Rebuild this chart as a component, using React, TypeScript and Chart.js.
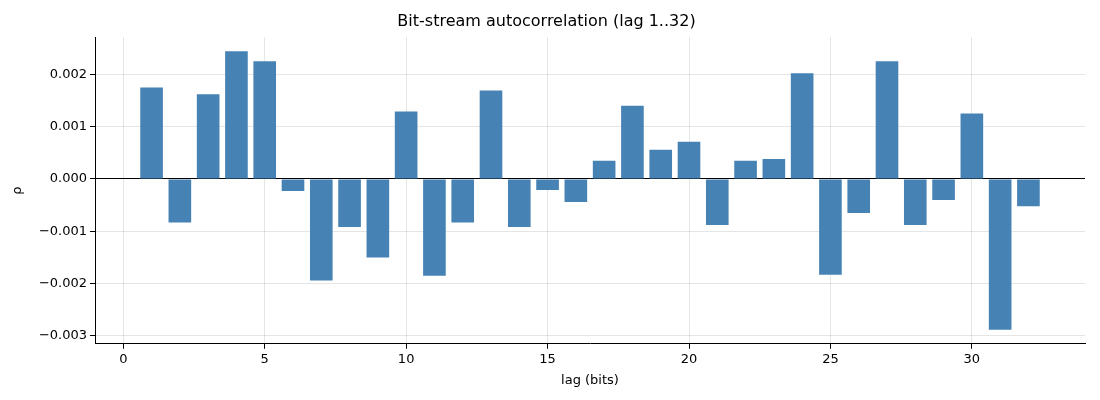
import React, { useEffect, useRef } from "react";
import { Chart, registerables } from "chart.js";
Chart.register(...registerables);

const lags = Array.from({ length: 32 }, (_, i) => i + 1);
const rho = [
  0.00175, -0.00083, 0.00162, 0.00244, 0.00225, -0.00023, -0.00194, -0.00092,
  -0.0015, 0.00129, -0.00185, -0.00083, 0.00169, -0.00092, -0.00021, -0.00044,
  0.00035, 0.0014, 0.00056, 0.00071, -0.00088, 0.00035, 0.00038, 0.00202,
  -0.00183, -0.00065, 0.00225, -0.00088, -0.0004, 0.00125, -0.00288, -0.00052,
];
const xTicks = [0, 5, 10, 15, 20, 25, 30];
const yTicks = [-0.003, -0.002, -0.001, 0, 0.001, 0.002];

export default function App() {
  const ref = useRef<HTMLCanvasElement>(null);
  useEffect(() => {
    document.body.style.margin = "0";
    const font = { family: "DejaVu Sans", size: 13 };
    const chart = new Chart(ref.current!, {
      type: "bar",
      data: {
        datasets: [
          {
            data: lags.map((l, i) => ({ x: l, y: rho[i] })),
            backgroundColor: "#4682b4",
            barPercentage: 0.8,
            categoryPercentage: 1,
          },
        ],
      },
      options: {
        animation: false,
        responsive: false,
        layout: { padding: { left: 8, right: 15, top: 0, bottom: 10 } },
        plugins: {
          legend: { display: false },
          tooltip: { enabled: false },
          title: {
            display: true,
            text: "Bit-stream autocorrelation (lag 1..32)",
            color: "#000",
            font: { family: "DejaVu Sans", size: 16, weight: "normal" },
            padding: { top: 12, bottom: 6 },
          },
        },
        scales: {
          x: {
            type: "linear",
            min: -1,
            max: 34,
            offset: false,
            afterBuildTicks: (s: any) => { s.ticks = xTicks.map((v) => ({ value: v })); },
            ticks: { color: "#000", font },
            grid: { offset: false, color: "rgba(0,0,0,0.1)", tickColor: "#000", tickLength: 5 },
            border: { color: "#000" },
            title: { display: true, text: "lag (bits)", color: "#000", font, padding: 2 },
          },
          y: {
            min: -0.00315,
            max: 0.00271,
            afterBuildTicks: (s: any) => { s.ticks = yTicks.map((v) => ({ value: v })); },
            afterFit: (s: any) => { s.width = 87; },
            ticks: {
              color: "#000",
              font,
              callback: (v: any) => (Number(v) < 0 ? "\u2212" : "") + Math.abs(Number(v)).toFixed(3),
            },
            grid: {
              color: (c: any) => (c.tick && c.tick.value === 0 ? "#000" : "rgba(0,0,0,0.1)"),
              tickColor: "#000",
              tickLength: 5,
            },
            border: { color: "#000" },
            title: { display: true, text: "ρ", color: "#000", font, padding: 2 },
          },
        },
      },
    });
    return () => chart.destroy();
  }, []);
  return <canvas ref={ref} width={1100} height={400} />;
}
